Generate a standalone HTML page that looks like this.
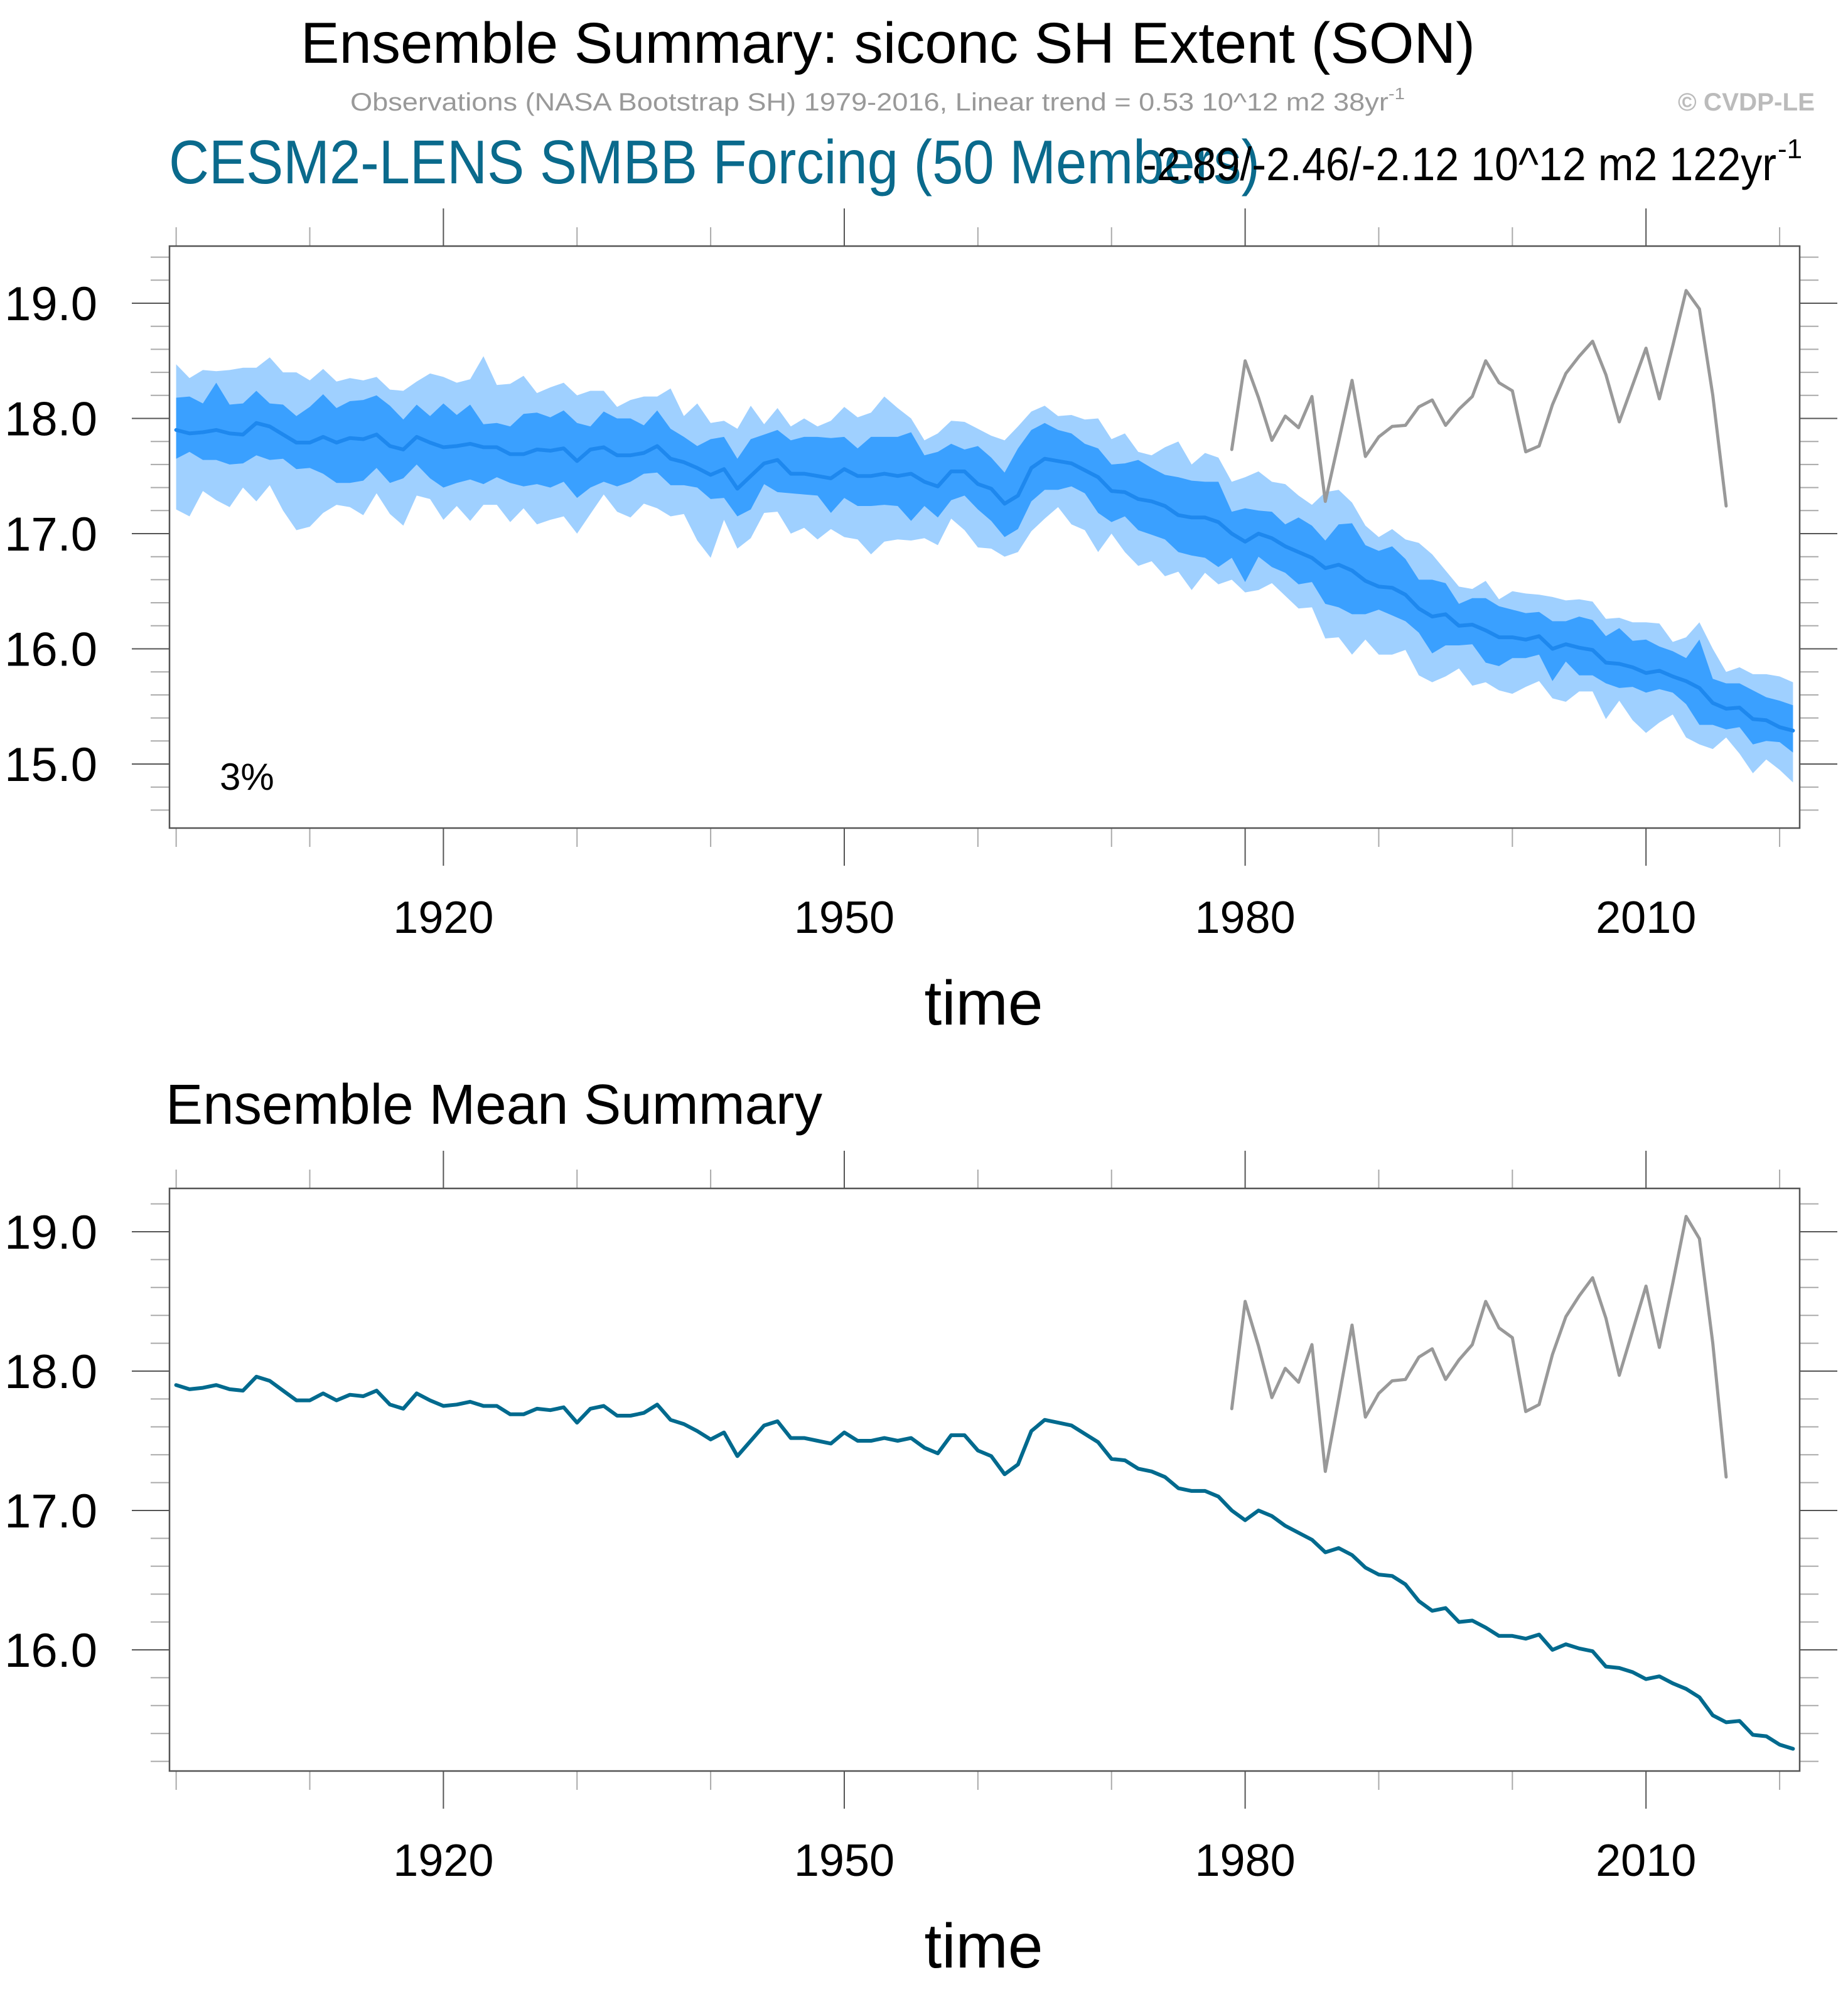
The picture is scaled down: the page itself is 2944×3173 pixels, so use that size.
<!DOCTYPE html>
<html><head><meta charset="utf-8"><style>
html,body{margin:0;padding:0;background:#fff;}
svg{display:block;font-family:"Liberation Sans",Arial,sans-serif;}
</style></head><body>
<svg id="chart" width="2944" height="3173" viewBox="0 0 2944 3173" xmlns="http://www.w3.org/2000/svg">
<text x="479" y="100" font-size="92" textLength="1871" lengthAdjust="spacingAndGlyphs" fill="#000">Ensemble Summary: siconc SH Extent (SON)</text>
<text x="558" y="176" font-size="40" textLength="1680" lengthAdjust="spacingAndGlyphs" fill="#999">Observations (NASA Bootstrap SH) 1979-2016, Linear trend = 0.53 10^12 m2 38yr<tspan dy="-18" font-size="26">-1</tspan></text>
<text x="2673" y="176" font-size="40" font-weight="bold" textLength="218" lengthAdjust="spacingAndGlyphs" fill="#bbb">© CVDP-LE</text>
<text x="269" y="292" font-size="98" textLength="1738" lengthAdjust="spacingAndGlyphs" fill="#0a6a8c">CESM2-LENS SMBB Forcing (50 Members)</text>
<text x="1820" y="287" font-size="74" textLength="1010" lengthAdjust="spacingAndGlyphs" fill="#000">-2.89/-2.46/-2.12 10^12 m2 122yr</text>
<text x="2832" y="252" font-size="44" fill="#000">-1</text>
<text x="264" y="1790" font-size="90" textLength="1046" lengthAdjust="spacingAndGlyphs" fill="#000">Ensemble Mean Summary</text>
<g id="top"></g>
<g id="bot"></g>
</svg>
<script>
const years = []; for (let y = 1900; y <= 2021; y++) years.push(y);
const ensMean = [17.90,17.87,17.88,17.90,17.87,17.86,17.96,17.93,17.86,17.79,17.79,17.84,17.79,17.83,17.82,17.86,17.76,17.73,17.84,17.79,17.75,17.76,17.78,17.75,17.75,17.69,17.69,17.73,17.72,17.74,17.63,17.73,17.75,17.68,17.68,17.70,17.76,17.65,17.62,17.57,17.51,17.56,17.39,17.50,17.61,17.64,17.52,17.52,17.50,17.48,17.56,17.50,17.50,17.52,17.50,17.52,17.45,17.41,17.54,17.54,17.43,17.39,17.26,17.33,17.57,17.65,17.63,17.61,17.55,17.49,17.37,17.36,17.30,17.28,17.24,17.16,17.14,17.14,17.10,17.00,16.93,17.00,16.96,16.89,16.84,16.79,16.70,16.73,16.68,16.59,16.54,16.53,16.47,16.35,16.28,16.30,16.20,16.21,16.16,16.10,16.10,16.08,16.11,16.00,16.04,16.01,15.99,15.88,15.87,15.84,15.79,15.81,15.76,15.72,15.66,15.53,15.48,15.49,15.39,15.38,15.32,15.29];
const outerHi = [18.47,18.35,18.42,18.41,18.42,18.44,18.44,18.53,18.40,18.40,18.33,18.43,18.32,18.35,18.33,18.36,18.25,18.24,18.32,18.39,18.36,18.31,18.34,18.54,18.29,18.30,18.37,18.22,18.27,18.31,18.20,18.24,18.24,18.10,18.16,18.19,18.19,18.26,18.02,18.13,17.96,
17.98,17.91,18.11,17.95,18.09,17.93,18.00,17.93,17.98,18.10,18.01,18.05,18.19,18.09,18.00,17.81,17.87,17.98,17.97,17.91,17.85,17.81,17.93,18.06,18.11,18.02,18.03,17.99,18.00,17.82,17.87,17.71,17.68,17.75,17.80,17.60,17.70,17.66,17.45,17.49,17.54,
17.45,17.43,17.33,17.25,
17.36,17.38,17.27,17.07,16.97,17.04,16.95,16.92,16.82,16.68,16.54,16.52,16.59,16.43,16.50,16.48,16.47,16.45,16.42,16.43,16.41,16.26,16.27,16.23,16.23,16.22,16.06,16.10,16.23,16.00,15.80,15.84,15.78,15.78,15.76,15.71];
const innerHi = [18.18,18.19,18.13,18.31,18.12,18.13,18.24,18.13,18.12,18.02,18.10,18.21,18.09,18.15,18.16,18.20,18.11,17.99,18.12,18.02,18.13,18.03,18.12,17.95,17.96,17.93,18.04,18.05,18.01,18.07,17.96,17.93,18.06,18.00,18.00,17.94,18.07,17.91,17.84,17.76,17.82,
17.84,17.65,17.82,17.86,17.90,17.81,17.84,17.84,17.83,17.84,17.74,17.84,17.84,17.84,17.88,17.68,17.71,17.78,17.73,17.76,17.66,17.53,17.74,17.90,17.96,17.90,17.87,17.78,17.74,17.60,17.61,17.64,17.57,17.51,17.49,17.46,17.45,17.45,17.19,17.22,17.20,
17.19,17.08,17.14,17.07,16.94,17.08,17.09,16.90,16.85,16.89,16.78,16.60,16.60,16.57,16.39,16.44,16.44,16.37,16.34,16.31,16.32,16.24,16.24,16.28,16.25,16.11,16.18,16.07,16.08,16.02,15.98,15.92,16.08,15.74,15.70,15.70,15.64,15.58,15.55,15.51];
const innerLo = [17.65,17.71,17.64,17.64,17.60,17.61,17.68,17.64,17.65,17.56,17.57,17.52,17.44,17.44,17.46,17.57,17.44,17.48,17.60,17.48,17.40,17.44,17.47,17.43,17.49,17.44,17.41,17.43,17.40,17.45,17.31,17.40,17.45,17.41,17.45,17.52,17.53,17.42,17.42,17.40,17.30,
17.31,17.15,17.21,17.43,17.36,17.35,17.34,17.33,17.18,17.31,17.24,17.24,17.25,17.24,17.11,17.24,17.14,17.29,17.33,17.21,17.11,16.97,17.04,17.28,17.38,17.38,17.41,17.35,17.18,17.10,17.15,17.03,16.99,16.95,16.84,16.81,16.79,16.71,16.79,16.58,16.80,
16.71,16.66,16.56,16.58,16.39,16.36,16.30,16.30,16.34,16.29,16.24,16.14,15.96,16.03,16.03,16.04,15.88,15.85,15.92,15.92,15.95,15.72,15.89,15.77,15.77,15.70,15.66,15.67,15.62,15.65,15.62,15.52,15.34,15.34,15.30,15.32,15.17,15.20,15.19,15.10];
const outerLo = [17.21,17.15,17.37,17.29,17.23,17.40,17.28,17.42,17.20,17.03,17.06,17.18,17.25,17.23,17.16,17.35,17.17,17.07,17.33,17.30,17.12,17.24,17.11,17.25,17.25,17.10,17.22,17.08,17.12,17.15,17.00,17.17,17.34,17.19,17.14,17.26,17.22,17.15,17.17,16.94,16.79,
17.12,16.87,16.96,17.18,17.19,17.00,17.05,16.95,17.04,16.97,16.95,16.82,16.93,16.95,16.94,16.96,16.90,17.13,17.03,16.88,16.87,16.80,16.84,17.02,17.13,17.23,17.08,17.03,16.84,17.00,16.84,16.72,16.76,16.63,16.67,16.51,16.66,16.56,16.60,16.49,16.51,
16.57,16.46,16.35,16.36,16.09,16.10,15.95,16.08,15.95,15.95,15.99,15.77,15.71,15.76,15.83,15.68,15.71,15.64,15.61,15.67,15.72,15.57,15.54,15.63,15.63,15.39,15.55,15.38,15.27,15.36,15.43,15.23,15.17,15.13,15.23,15.09,14.92,15.04,14.95,14.84];
const obsYears = []; for (let y = 1979; y <= 2016; y++) obsYears.push(y);
const obsValues = [17.73,18.50,18.18,17.81,18.02,17.92,18.19,17.28,17.80,18.33,17.67,17.84,17.93,17.94,18.10,18.16,17.94,18.08,18.19,18.50,18.31,18.24,17.71,17.76,18.12,18.39,18.54,18.67,18.38,17.97,18.29,18.61,18.17,18.63,19.11,18.95,18.20,17.24];
const xTickLabels = ["1920","1950","1980","2010"];
const xTickYears = [1920,1950,1980,2010];
const topYTicks = ["15.0","16.0","17.0","18.0","19.0"];
const botYTicks = ["16.0","17.0","18.0","19.0"];

const NS = "http://www.w3.org/2000/svg";
function mk(parent, tag, attrs) {
  const e = document.createElementNS(NS, tag);
  for (const k in attrs) e.setAttribute(k, attrs[k]);
  parent.appendChild(e); return e;
}
const X0 = 270, X1 = 2867, YR0 = 1899.5, YR1 = 2021.5;
const xs = yr => X0 + (yr - YR0) / (YR1 - YR0) * (X1 - X0);

function axes(g, T, B, vTop, vBot, yLabels, xLabBase, timeBase) {
  const ys = v => T + (vTop - v) / (vTop - vBot) * (B - T);
  // ticks
  for (let yr = 1900; yr <= 2020; yr += 10) {
    const major = (yr - 1920) % 30 === 0;
    const len = major ? 60 : 30, col = major ? "#555" : "#aaa";
    let t = mk(g, "line", {x1: xs(yr), x2: xs(yr), y1: T, y2: T - len, stroke: col, "stroke-width": 2});
    
    
    t = mk(g, "line", {x1: xs(yr), x2: xs(yr), y1: B, y2: B + len, stroke: col, "stroke-width": 2});
    
    
  }
  for (let i = Math.ceil(vBot * 5); i <= Math.floor(vTop * 5); i++) {
    const v = i / 5, major = i % 5 === 0;
    const len = major ? 60 : 30, col = major ? "#555" : "#aaa";
    let t = mk(g, "line", {x1: X0, x2: X0 - len, y1: ys(v), y2: ys(v), stroke: col, "stroke-width": 2});
    
    
    t = mk(g, "line", {x1: X1, x2: X1 + len, y1: ys(v), y2: ys(v), stroke: col, "stroke-width": 2});
    
    
  }
  yLabels.forEach(l => {
    const t = mk(g, "text", {x: 155, y: ys(parseFloat(l)) + 27, "font-size": 76, "text-anchor": "end", fill: "#000"});
    
    
    t.textContent = l;
  });
  xTickLabels.forEach((l, i) => {
    const t = mk(g, "text", {x: xs(xTickYears[i]), y: xLabBase, "font-size": 72, "text-anchor": "middle", fill: "#000"});
    
    
    t.textContent = l;
  });
  const tt = mk(g, "text", {x: 1567, y: timeBase, "font-size": 100, "text-anchor": "middle", fill: "#000"});
  
  
  tt.textContent = "time";
  return ys;
}
function frame(g, T, B) {
  const f = mk(g, "rect", {x: X0, y: T, width: X1 - X0, height: B - T, fill: "none", stroke: "#555", "stroke-width": 2.5});
  
  
}
function linePath(xsArr, vals, ys) {
  return vals.map((v, i) => (i ? "L" : "M") + xs(xsArr[i]).toFixed(1) + "," + ys(v).toFixed(1)).join("");
}
function bandPath(hi, lo, ys) {
  let d = hi.map((v, i) => (i ? "L" : "M") + xs(years[i]).toFixed(1) + "," + ys(v).toFixed(1)).join("");
  for (let i = lo.length - 1; i >= 0; i--) d += "L" + xs(years[i]).toFixed(1) + "," + ys(lo[i]).toFixed(1);
  return d + "Z";
}

// top panel
const gt = document.getElementById("top");
const ysT = axes(gt, 392, 1319, 19.0 + 91 / 183.5, 19.0 - 836 / 183.5, topYTicks, 1486, 1632);
let p = mk(gt, "path", {d: bandPath(outerHi, outerLo, ysT), fill: "#9fd0ff"});


p = mk(gt, "path", {d: bandPath(innerHi, innerLo, ysT), fill: "#3aa0ff"});


p = mk(gt, "path", {d: linePath(years, ensMean, ysT), fill: "none", stroke: "#1e88ee", "stroke-width": 6, "stroke-linejoin": "round", "stroke-linecap": "round"});


p = mk(gt, "path", {d: linePath(obsYears, obsValues, ysT), fill: "none", stroke: "#999", "stroke-width": 5, "stroke-linejoin": "round", "stroke-linecap": "round"});


frame(gt, 392, 1319);
let pct = mk(gt, "text", {x: 350, y: 1258, "font-size": 60, fill: "#000"});


pct.textContent = "3%";

// bottom panel
const gb = document.getElementById("bot");
const ysB = axes(gb, 1893, 2821, 19.0 + 69 / 222, 16.0 - 193 / 222, botYTicks, 2988, 3134);
p = mk(gb, "path", {d: linePath(years, ensMean, ysB), fill: "none", stroke: "#006a8e", "stroke-width": 6, "stroke-linejoin": "round", "stroke-linecap": "round"});


p = mk(gb, "path", {d: linePath(obsYears, obsValues, ysB), fill: "none", stroke: "#999", "stroke-width": 5, "stroke-linejoin": "round", "stroke-linecap": "round"});


frame(gb, 1893, 2821);
</script>
</body></html>
